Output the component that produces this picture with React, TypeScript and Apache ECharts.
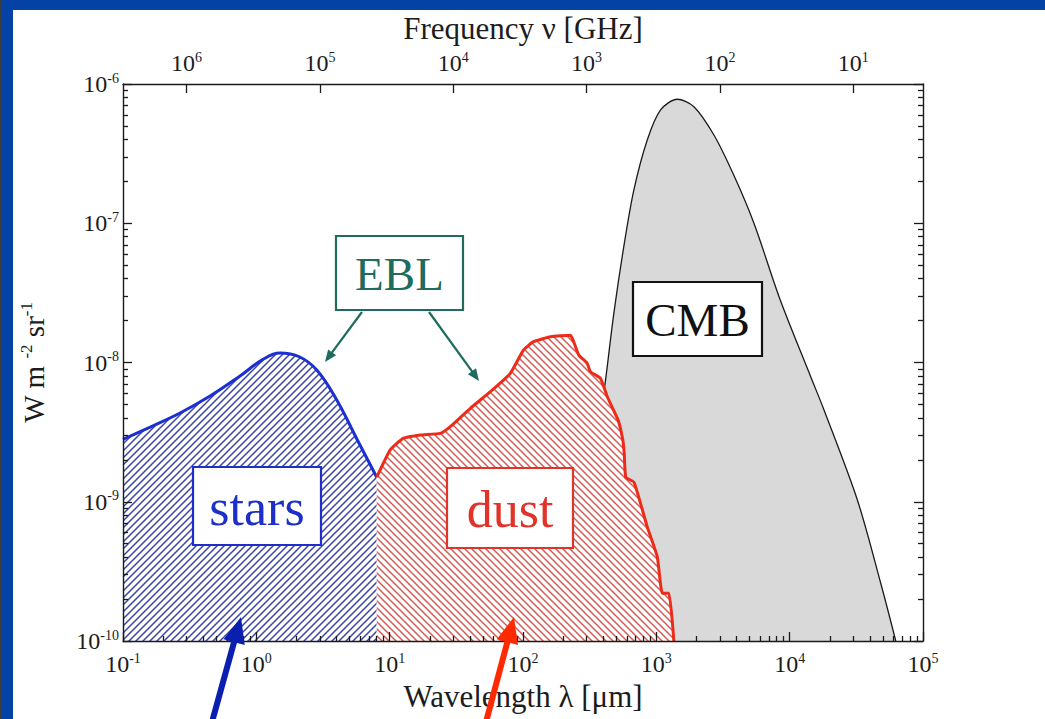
import React, { useEffect, useRef } from "react";
import * as echarts from "echarts";

// ---- axis ticks (decimal exponents) ----
const wavelengthExpMin = -1;
const wavelengthExpMax = 5;
const intensityExpMin = -10;
const intensityExpMax = -6;
const frequencyTicks = [10, 100, 1000, 10000, 100000, 1000000];
const minorMantissas = [2, 3, 4, 5, 6, 7, 8, 9];
const C_UM_GHZ = 3e5; // nu[GHz] = 3e5 / lambda[um]

// ---- stars (blue): wavelength [um], intensity [W m^-2 sr^-1] ----
const starsLambda = [0.1, 0.16, 0.268, 0.45, 0.755, 1.1, 1.5, 2.1, 2.85, 4.0, 5.7, 8.0];
const starsI = [2.8e-9, 3.44e-9, 4.34e-9, 5.74e-9, 8.0e-9, 1.04e-8, 1.17e-8, 1.1e-8, 8.8e-9, 5.4e-9, 2.8e-9, 1.5e-9];

// ---- dust (red) ----
const dustLambda = [8, 10.1, 12.7, 17, 24, 28.5, 40.3, 56.9, 80.3, 101, 120, 161, 227, 240, 262, 303, 320, 381, 428, 480, 520, 560, 575, 590, 680, 855, 1016, 1109, 1242, 1353];
const dustI = [1.5e-9, 2.36e-9, 2.86e-9, 3.02e-9, 3.1e-9, 3.46e-9, 4.69e-9, 6.17e-9, 8.35e-9, 1.23e-8, 1.41e-8, 1.53e-8, 1.57e-8, 1.41e-8, 1.13e-8, 9.87e-9, 8.6e-9, 7.7e-9, 5.7e-9, 4.5e-9, 3.8e-9, 2.8e-9, 2.2e-9, 1.5e-9, 1.38e-9, 6.6e-10, 4.03e-10, 2.2e-10, 2.2e-10, 1e-10];

// ---- CMB (grey) ----
const cmbLambda = [275, 330, 380, 416, 480, 570, 678, 855, 1076, 1436, 1914, 2704, 3820, 5396, 8500, 14380, 18100, 32200, 48200, 62500];
const cmbI = [1e-10, 1.0e-9, 4.0e-9, 7.48e-9, 2.25e-8, 6.79e-8, 1.73e-7, 3.96e-7, 6.51e-7, 7.77e-7, 6.87e-7, 4.3e-7, 2.2e-7, 1.0e-7, 2.81e-8, 7.9e-9, 4.56e-9, 1.03e-9, 2.6e-10, 1e-10];

const FONT = "Liberation Serif";
const TXT = "#1c1c1c";

// data plotted on value axes in log10 space
function logPairs(xs: number[], ys: number[]) {
  return xs.map((x, i) => [Math.log10(x), Math.log10(ys[i])]);
}

function minorPositions(e0: number, e1: number) {
  const out: number[] = [];
  for (let e = e0; e < e1; e++) minorMantissas.forEach((m) => out.push(e + Math.log10(m)));
  return out;
}

const freqPositions = frequencyTicks.map((f) => Math.log10(C_UM_GHZ / f));

function expLabel(v: number) {
  return `{b|10}{s|${Math.round(v)}}`;
}
function freqLabel(v: number) {
  return `{b|10}{s|${Math.round(Math.log10(C_UM_GHZ) - v)}}`;
}

const labelRich = {
  b: { fontFamily: FONT, fontSize: 24, color: TXT, lineHeight: 26 },
  s: { fontFamily: FONT, fontSize: 14, color: TXT, verticalAlign: "top", lineHeight: 26 },
};

function hatch(color: string, dir: string) {
  const s = 7;
  const c = document.createElement("canvas");
  c.width = s;
  c.height = s;
  const g = c.getContext("2d")!;
  g.fillStyle = "#ffffff";
  g.fillRect(0, 0, s, s);
  g.strokeStyle = color;
  g.lineWidth = 1.5;
  g.beginPath();
  if (dir === "/") {
    g.moveTo(-1, s + 1); g.lineTo(s + 1, -1);
    g.moveTo(-1, 1); g.lineTo(1, -1);
    g.moveTo(s - 1, s + 1); g.lineTo(s + 1, s - 1);
  } else {
    g.moveTo(-1, -1); g.lineTo(s + 1, s + 1);
    g.moveTo(s - 1, -1); g.lineTo(s + 1, 1);
    g.moveTo(-1, s - 1); g.lineTo(1, s + 1);
  }
  g.stroke();
  return { image: c, repeat: "repeat", imageWidth: s, imageHeight: s } as any;
}

function arrow(x1: number, y1: number, x2: number, y2: number, lw: number, hl: number, hw: number, color: string) {
  const dx = x2 - x1, dy = y2 - y1;
  const L = Math.hypot(dx, dy);
  const ux = dx / L, uy = dy / L;
  const px = -uy, py = ux;
  const bx = x2 - ux * hl, by = y2 - uy * hl;
  return [
    { type: "line", z: 100, shape: { x1, y1, x2: bx + ux * 2, y2: by + uy * 2 }, style: { stroke: color, lineWidth: lw } },
    { type: "polygon", z: 100, shape: { points: [[x2, y2], [bx + (px * hw) / 2, by + (py * hw) / 2], [bx - (px * hw) / 2, by - (py * hw) / 2]] }, style: { fill: color } },
  ];
}

function box(x: number, y: number, w: number, h: number, text: string, color: string, size: number) {
  return [
    { type: "rect", z: 100, shape: { x, y, width: w, height: h }, style: { fill: "#fff", stroke: color, lineWidth: 2.2 } },
    { type: "text", z: 101, x: x + w / 2, y: y + h / 2 + 1, style: { text, fill: color, font: `${size}px "${FONT}"`, align: "center", verticalAlign: "middle" } },
  ];
}

export default function App() {
  const ref = useRef<HTMLDivElement>(null);
  useEffect(() => {
    if (!ref.current) return;
    const chart = echarts.init(ref.current, null, { renderer: "svg" });
    const gridPos = { left: 123, top: 84, right: 122, bottom: 78 };
    const tickLine = { color: "#1a1a1a", width: 1.3 };
    const axisLine = { show: true, onZero: false, lineStyle: { color: "#1a1a1a", width: 1.4 } };
    const hiddenLine = { show: false, onZero: false };
    const xBase = { type: "value", min: wavelengthExpMin, max: wavelengthExpMax, interval: 1, splitLine: { show: false } };
    const yBase = { type: "value", min: intensityExpMin, max: intensityExpMax, interval: 1, splitLine: { show: false } };
    const minorX = minorPositions(wavelengthExpMin, wavelengthExpMax);
    const minorY = minorPositions(intensityExpMin, intensityExpMax);

    const option: any = {
      animation: false,
      backgroundColor: "#ffffff",
      grid: [
        { ...gridPos, containLabel: false },
        { ...gridPos, containLabel: false },
      ],
      xAxis: [
        {
          ...xBase, gridIndex: 0, position: "bottom", z: 10,
          axisLine,
          axisTick: { show: true, inside: true, length: 9, lineStyle: tickLine },
          axisLabel: { formatter: expLabel, rich: labelRich, margin: 10 },
          name: "Wavelength λ [μm]", nameLocation: "middle", nameGap: 21,
          nameTextStyle: { fontFamily: FONT, fontSize: 31, color: TXT },
        },
        {
          ...xBase, gridIndex: 0, position: "top", z: 10,
          axisLine,
          axisTick: { show: true, inside: true, length: 9, customValues: freqPositions, lineStyle: tickLine },
          axisLabel: { customValues: freqPositions, formatter: freqLabel, rich: labelRich, margin: 8 },
          name: "Frequency ν [GHz]", nameLocation: "middle", nameGap: 40,
          nameTextStyle: { fontFamily: FONT, fontSize: 31, color: TXT },
        },
        {
          ...xBase, gridIndex: 1, position: "bottom", z: 10,
          axisLine: hiddenLine,
          axisTick: { show: true, inside: true, length: 5, customValues: minorX, lineStyle: tickLine },
          axisLabel: { show: false },
        },
      ],
      yAxis: [
        {
          ...yBase, gridIndex: 0, position: "left", z: 10,
          axisLine,
          axisTick: { show: true, inside: true, length: 9, lineStyle: tickLine },
          axisLabel: { formatter: expLabel, rich: labelRich, margin: 4 },
          name: "{n|W m }{t|-2}{n| sr}{t|-1}", nameLocation: "middle", nameGap: 73,
          nameTextStyle: {
            rich: {
              n: { fontFamily: FONT, fontSize: 29, color: TXT, lineHeight: 32 },
              t: { fontFamily: FONT, fontSize: 17, color: TXT, verticalAlign: "top", lineHeight: 32 },
            },
          },
        },
        {
          ...yBase, gridIndex: 0, position: "right", z: 10,
          axisLine,
          axisTick: { show: true, inside: true, length: 9, lineStyle: tickLine },
          axisLabel: { show: false },
        },
        {
          ...yBase, gridIndex: 1, position: "left", z: 10,
          axisLine: hiddenLine,
          axisTick: { show: true, inside: true, length: 5, customValues: minorY, lineStyle: tickLine },
          axisLabel: { show: false },
        },
        {
          ...yBase, gridIndex: 1, position: "right", z: 10,
          axisLine: hiddenLine,
          axisTick: { show: true, inside: true, length: 5, customValues: minorY, lineStyle: tickLine },
          axisLabel: { show: false },
        },
      ],
      series: [
        {
          name: "CMB", type: "line", xAxisIndex: 0, yAxisIndex: 0, z: 2,
          data: logPairs(cmbLambda, cmbI), smooth: 0.3, symbol: "none",
          lineStyle: { color: "#1a1a1a", width: 1.3 },
          areaStyle: { color: "#d9d9d9", opacity: 1, origin: "start" },
        },
        {
          name: "stars", type: "line", xAxisIndex: 0, yAxisIndex: 0, z: 3,
          data: logPairs(starsLambda, starsI), smooth: 0.4, symbol: "none",
          lineStyle: { color: "#1c2fd0", width: 3 },
          areaStyle: { color: hatch("#3b45a8", "/"), opacity: 1, origin: "start" },
        },
        {
          name: "dust", type: "line", xAxisIndex: 0, yAxisIndex: 0, z: 3,
          data: logPairs(dustLambda, dustI), smooth: 0.15, symbol: "none",
          lineStyle: { color: "#ee2a18", width: 3 },
          areaStyle: { color: hatch("#d65a55", "\\"), opacity: 1, origin: "start" },
        },
        // empty series so the overlay grid (minor ticks) is laid out
        {
          name: "minor", type: "line", xAxisIndex: 2, yAxisIndex: 2, data: [], symbol: "none", silent: true,
        },
      ],
      graphic: [
        { type: "rect", z: 200, shape: { x: 0, y: 0, width: 1045, height: 10 }, style: { fill: "#0443a5" } },
        { type: "rect", z: 200, shape: { x: 0, y: 0, width: 13, height: 719 }, style: { fill: "#0443a5" } },
        { type: "rect", z: 201, shape: { x: 0, y: 0, width: 2, height: 719 }, style: { fill: "#3c3c3c" } },
        ...box(336, 236, 127, 74, "EBL", "#1f6b5d", 47),
        ...box(193, 467, 128, 78, "stars", "#1c2fc8", 52),
        ...box(447, 468, 126, 80, "dust", "#e0332a", 52),
        ...box(633, 282, 129, 74, "CMB", "#111111", 47),
        ...arrow(362, 312, 325, 362, 2.2, 12, 10, "#1f6b5d"),
        ...arrow(429, 312, 479, 381, 2.2, 12, 10, "#1f6b5d"),
        ...arrow(212, 722, 241, 617, 6, 26, 22, "#0a1eb0"),
        ...arrow(486, 722, 514, 617, 6, 26, 22, "#ff2a00"),
      ],
    };
    chart.setOption(option);
    return () => chart.dispose();
  }, []);
  return <div ref={ref} style={{ position: "fixed", left: 0, top: 0, width: 1045, height: 719 }} />;
}
